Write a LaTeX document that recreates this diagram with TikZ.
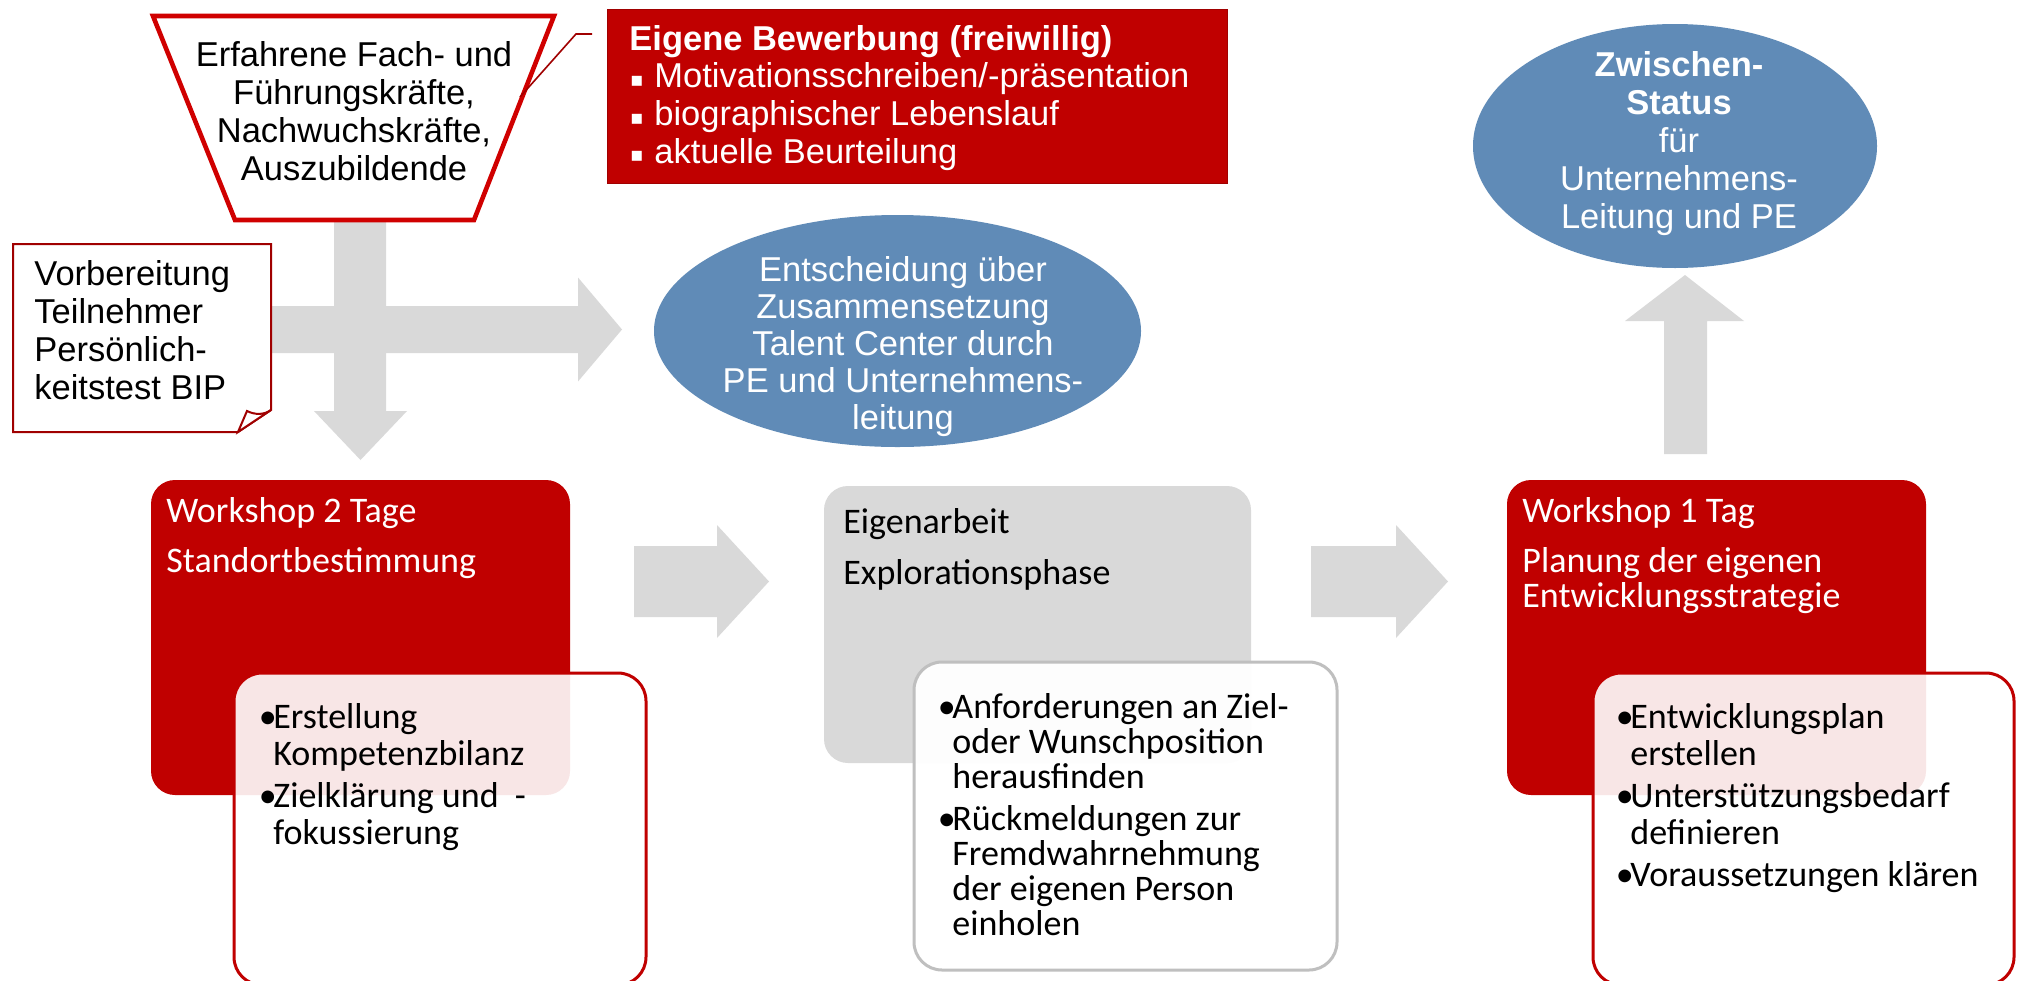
\documentclass[tikz,border=0pt]{standalone}
\usepackage{fontspec}
\setmainfont{Liberation Sans}
\newfontfamily\calfont{Carlito}
\newfontfamily\djfont{DejaVu Sans}
\usetikzlibrary{shapes.geometric}
\definecolor{rd}{RGB}{192,0,0}
\definecolor{rdb}{RGB}{208,0,0}
\definecolor{dkred}{RGB}{160,0,0}
\definecolor{blu}{RGB}{96,139,183}
\definecolor{gry}{RGB}{217,217,217}
\definecolor{gryb}{RGB}{191,191,191}
\newcommand\LBlk[1]{\parbox[t]{400pt}{\lineskiplimit=-100pt\lineskip=0pt\raggedright #1}}
\newcommand\CBlk[1]{\parbox[t]{300pt}{\lineskiplimit=-100pt\lineskip=0pt\centering #1}}
\newcommand\mybul{\makebox[5.5pt][c]{•}}
\newcommand\myind{\hspace*{5.5pt}}
\newcommand\sqbul{\makebox[12.5pt][l]{\makebox[7.5pt][c]{\djfont\fontsize{10}{10}\selectfont\raisebox{0.6pt}{▪}}}}
\begin{document}
\begin{tikzpicture}[x=0.5pt,y=-0.5pt,
  garrow/.style={fill=gry, draw=none},
  arialtxt/.style={inner sep=0pt, font=\fontsize{17.25}{19}\selectfont},
  caltxt/.style={inner sep=0pt, font=\calfont\fontsize{18}{18.5}\selectfont},
  redbox/.style={rectangle, rounded corners=12pt, fill=rd, draw=none, inner sep=0pt},
  graybox/.style={rectangle, rounded corners=12pt, fill=gry, draw=none, inner sep=0pt},
  detailred/.style={rectangle, rounded corners=14pt, draw=rd, line width=1.5pt, fill=white, fill opacity=0.9, inner sep=0pt},
  detailgray/.style={rectangle, rounded corners=14pt, draw=gryb, line width=1.5pt, fill=white, fill opacity=0.95, inner sep=0pt},
  blueell/.style={ellipse, fill=blu, draw=none, inner sep=0pt},
  trapline/.style={draw=rdb, line width=2.3pt, fill=white, line join=miter},
  notebox/.style={draw=dkred, line width=1pt, fill=white, line join=miter},
]
\useasboundingbox (0,0) rectangle (2018,980);
\fill[white] (0,0) rectangle (2018,980);

% ---- grey block arrows
\fill[garrow] (240,306) -- (578,306) -- (578,277.5) -- (622,329.5) -- (578,381.5) -- (578,353) -- (240,353) -- cycle;
\fill[garrow] (334,215) -- (334,411) -- (314,411) -- (360.5,460) -- (407,411) -- (386,411) -- (386,215) -- cycle;
\fill[garrow] (634,546) -- (717,546) -- (717,525) -- (769,581.5) -- (717,638) -- (717,617) -- (634,617) -- cycle;
\fill[garrow] (1311,546) -- (1396,546) -- (1396,525) -- (1448,581.5) -- (1396,638) -- (1396,617) -- (1311,617) -- cycle;
\fill[garrow] (1664,454) -- (1664,321) -- (1625,321) -- (1685,275) -- (1744,321) -- (1707,321) -- (1707,454) -- cycle;

% ---- trapezoid (target group)
\draw[trapline] (153,16) -- (554,16) -- (474,220) -- (235,220) -- cycle;
\node[arialtxt, anchor=base] (pool) at (354,66) {\CBlk{Erfahrene Fach- und\\Führungskräfte,\\Nachwuchskräfte,\\Auszubildende}};

% ---- preparation note
\draw[notebox] (13,244) -- (271,244) -- (271,410) -- (238,432) -- (13,432) -- cycle;
\draw[notebox] (238,432) -- (247,411) .. controls (255,415) and (264,415) .. (271,410) -- cycle;
\node[arialtxt, anchor=base west] (prep) at (34,285) {\LBlk{Vorbereitung\\Teilnehmer\\Persönlich-\\keitstest BIP}};

% ---- application box
\node[rectangle, fill=rd, draw=dkred, line width=0.5pt, minimum width=310pt, minimum height=87pt, anchor=north west, inner sep=0pt] (bew) at (607,9) {};
\node[arialtxt, anchor=base west, text=white, font=\fontsize{17.25}{18.85}\selectfont] (bewtxt) at (629,50) {\LBlk{\textbf{Eigene Bewerbung (freiwillig)}\\\sqbul Motivationsschreiben/-präsentation\\\sqbul biographischer Lebenslauf\\\sqbul aktuelle Beurteilung}};
\coordinate (callA) at (592,34);
\coordinate (callB) at (576,34);
\coordinate (callC) at (520,97);
\draw[dkred, line width=0.8pt] (callA) -- (callB) -- (callC);

% ---- decision ellipse
\node[blueell, minimum width=243.5pt, minimum height=116pt] (e1) at (897.5,331) {};
\node[arialtxt, anchor=base, text=white, font=\fontsize{17.25}{18.6}\selectfont] (e1txt) at (903,281) {\CBlk{Entscheidung über\\Zusammensetzung\\Talent Center durch\\PE und Unternehmens-\\leitung}};

% ---- status ellipse
\node[blueell, minimum width=202pt, minimum height=122pt] (e2) at (1675,146) {};
\node[arialtxt, anchor=base, text=white, font=\fontsize{17.25}{19.1}\selectfont] (e2txt) at (1679,76) {\CBlk{\textbf{Zwischen-}\\\textbf{Status}\\für\\Unternehmens-\\Leitung und PE}};

% ---- workshop 2 days
\node[redbox, minimum width=209.5pt, minimum height=157.5pt] (w2) at (360.5,637.5) {};
\node[caltxt, anchor=base west, text=white, font=\calfont\fontsize{18}{17.5}\selectfont] (w2t) at (166,522) {\LBlk{Workshop 2 Tage\\[7.5pt]Standortbestimmung}};
\node[detailred, minimum width=206pt, minimum height=156pt] (d1) at (440,829) {};
\node[caltxt, anchor=base west] (d1t) at (262,728) {\LBlk{\mybul Erstellung\\\myind Kompetenzbilanz\\[2.5pt]\mybul Zielklärung und\ \ -\\\myind fokussierung}};

% ---- self work
\node[graybox, minimum width=213.5pt, minimum height=138.5pt] (g) at (1037.5,624.5) {};
\node[caltxt, anchor=base west, font=\calfont\fontsize{18}{17.5}\selectfont] (gt) at (843,533) {\LBlk{Eigenarbeit\\[8pt]Explorationsphase}};
\node[detailgray, minimum width=211.5pt, minimum height=154pt] (d2) at (1125.5,816) {};
\node[caltxt, anchor=base west, font=\calfont\fontsize{18}{17.5}\selectfont] (d2t) at (941,718) {\LBlk{\mybul Anforderungen an Ziel-\\\myind oder Wunschposition\\\myind herausfinden\\[3.5pt]\mybul Rückmeldungen zur\\\myind Fremdwahrnehmung\\\myind der eigenen Person\\\myind einholen}};

% ---- workshop 1 day
\node[redbox, minimum width=209.5pt, minimum height=157.5pt] (w1) at (1716.5,637.5) {};
\node[caltxt, anchor=base west, text=white, font=\calfont\fontsize{18}{17.5}\selectfont] (w1t) at (1522,522) {\LBlk{Workshop 1 Tag\\[7.5pt]Planung der eigenen\\Entwicklungsstrategie}};
\node[detailred, minimum width=210.5pt, minimum height=156pt] (d3) at (1803.5,829) {};
\node[caltxt, anchor=base west] (d3t) at (1619,728) {\LBlk{\mybul Entwicklungsplan\\\myind erstellen\\[2.5pt]\mybul Unterstützungsbedarf\\\myind definieren\\[2.5pt]\mybul Voraussetzungen klären}};
\end{tikzpicture}
\end{document}
